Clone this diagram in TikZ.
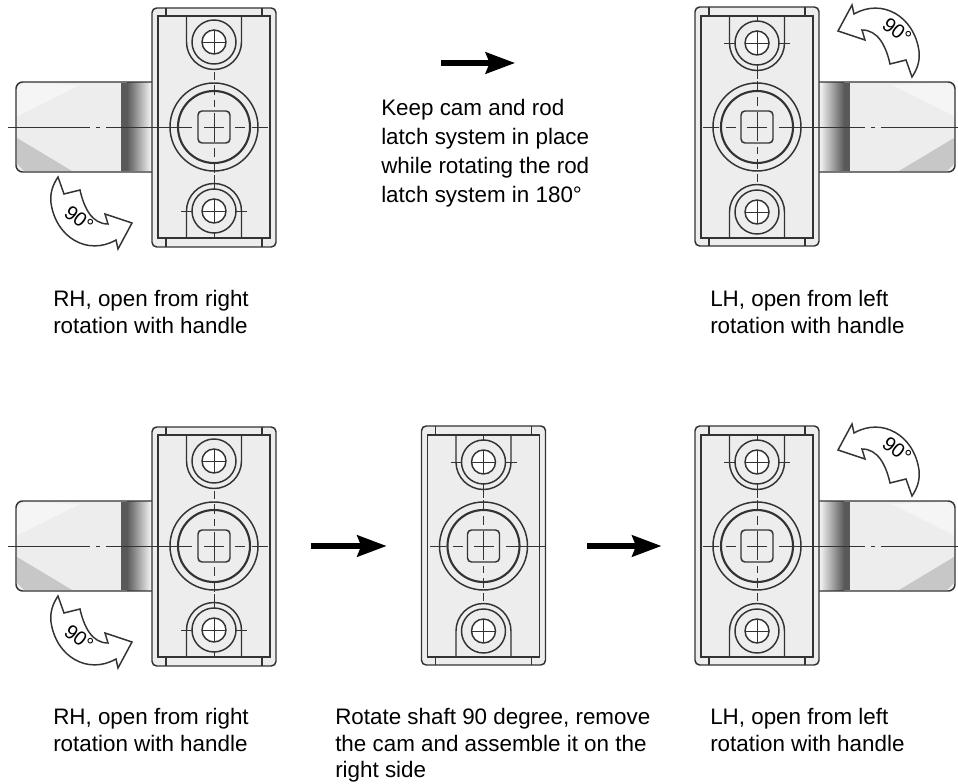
\documentclass[tikz,border=0pt]{standalone}
\usepackage{fontspec}
\setmainfont{Liberation Sans}
\usetikzlibrary{arrows.meta, positioning}
\definecolor{platefill}{HTML}{EDEDED}
\definecolor{inkline}{HTML}{333333}

\begin{document}
\begin{tikzpicture}[
    x=0.75pt, y=-0.75pt,
    line/.style={draw=inkline, line width=1.1pt},
    thin line/.style={draw=inkline, line width=0.7pt},
    caption/.style={align=left, anchor=north west, inner sep=0pt, font=\fontsize{16.8}{20}\selectfont},
    slot/.style={minimum width=93pt, minimum height=179pt, inner sep=0pt},
    arrow/.style={-{Stealth[length=22pt, width=16pt, inset=3pt]}, line width=3.8pt, shorten <=26pt, shorten >=26pt},
    band/.style={left color=black!65, right color=platefill},
    turntext/.style={rotate=-38, inner sep=0pt, font=\fontsize{15}{15}\selectfont},
    plate/.pic={
        \draw[line, fill=platefill, rounded corners=3.5pt] (-62,-119) rectangle (62,120);
        \draw[line] (-56,-111) rectangle (56,111);
        \foreach \sx in {-48,48} {
            \draw[line] (\sx,-119) -- (\sx,-111);
            \draw[line] (\sx,111) -- (\sx,120);
        }
        % lugs and bolts
        \draw[line] (-27.5,-111) -- (-27.5,-85) arc[start angle=180, end angle=360, x radius=27.5, y radius=-27.5] -- (27.5,-111);
        \draw[line] (-27.5,111) -- (-27.5,84) arc[start angle=180, end angle=360, x radius=27.5, y radius=27.5] -- (27.5,111);
        \foreach \cy in {-85,84} {
            \draw[line] (0,\cy) circle[radius=22];
            \draw[line, fill=white] (0,\cy) circle[radius=12];
            \draw[thin line] (-12,\cy) -- (12,\cy) (0,\cy-12) -- (0,\cy+12);
        }
        \draw[thin line] (-33,84) -- (-22,84) (22,84) -- (33,84);
        % cam
        \draw[line] (0,0) circle[radius=44];
        \draw[draw=inkline, line width=1.6pt] (0,0) circle[radius=36];
        \draw[line, rounded corners=3pt] (-16,-16) rectangle (16,16);
        % centre lines
        \draw[thin line] (-62,0) -- (-22,0) (-10,0) -- (10,0) (21,0) -- (31,0) (38,0) -- (54,0);
        \draw[thin line] (0,-55) -- (0,-47) (0,-42) -- (0,-32) (0,-27) -- (0,-20) (0,-14) -- (0,15)
            (0,21) -- (0,30) (0,36) -- (0,46) (0,48) -- (0,62) (0,106) -- (0,111);
    },
    handle/.pic={
        \fill[platefill, rounded corners=5pt] (-198,-45) rectangle (-61,45);
        \fill[white!96!black] (-198,-10) -- (-134,-42) -- (-190,-44) -- (-198,-38) -- cycle;
        \fill[black!22] (-197,11) -- (-142,44) -- (-190,44) -- (-197,37) -- cycle;
        \fill[black!65] (-93,-44) rectangle (-87,44);
        \shade[band] (-87,-44) rectangle (-64,44);
        \draw[line, rounded corners=5pt] (-61,-45) -- (-198,-45) -- (-198,45) -- (-61,45);
        \draw[thin line] (-206,0) -- (-124,0) (-118,0) -- (-114,0) (-108,0) -- (-62,0);
    },
    turn/.pic={
        \draw[line, fill=white] (58,177) -- (64,194) -- (80,190)
            .. controls (84,208) and (92,224) .. (108,224) -- (105,214) -- (132,223) -- (118,249) -- (116,240)
            .. controls (88,256) and (56,238) .. (51,203) .. controls (50,194) and (52,186) .. (58,177) -- cycle;
    }
]
\useasboundingbox (0,0) rectangle (958,784);

% top row
\pic at (214,127) {handle};
\pic at (214,127) {plate};
\pic at (0,0) {turn};
\node[turntext] (degA) at (79,219) {90°};
\pic[xscale=-1, band/.style={left color=platefill, right color=black!65}] at (757,127) {handle};
\pic[rotate=180] at (757,127) {plate};
\pic[rotate=180] at (970,254) {turn};
\node[turntext] (degB) at (897,31) {90°};
\coordinate (keepstart) at (441,63);
\coordinate (keepend) at (515,63);
\draw[arrow, shorten <=0pt, shorten >=0pt] (keepstart) -- (keepend);

\node[caption, font=\fontsize{16.8}{21.75}\selectfont] (keeptext) at (381,99) {Keep cam and rod\\latch system in place\\while rotating the rod\\latch system in 180°};
\node[caption] (rhtop) at (53,290) {RH, open from right\\rotation with handle};
\node[caption] (lhtop) at (710,290) {LH, open from left\\rotation with handle};

% bottom row
\pic at (214,546) {handle};
\pic at (214,546) {plate};
\pic at (0,419) {turn};
\node[turntext] (degC) at (79,638) {90°};
\pic[rotate=180] at (483.5,546) {plate};
\pic[xscale=-1, band/.style={left color=platefill, right color=black!65}] at (757,546) {handle};
\pic[rotate=180] at (757,546) {plate};
\pic[rotate=180] at (970,673) {turn};
\node[turntext] (degD) at (897,450) {90°};

\node[slot] (plateB) at (214,546) {};
\node[slot] (plateC) at (483.5,546) {};
\node[slot] (plateD) at (757,546) {};
\draw[arrow] (plateB) -- (plateC);
\draw[arrow, shorten <=31pt, shorten >=25pt] (plateC) -- (plateD);

\node[caption] (rhbot) at (53,708) {RH, open from right\\rotation with handle};
\node[caption] (midbot) at (335,708) {Rotate shaft 90 degree, remove\\the cam and assemble it on the\\right side};
\node[caption] (lhbot) at (710,708) {LH, open from left\\rotation with handle};
\end{tikzpicture}
\end{document}
